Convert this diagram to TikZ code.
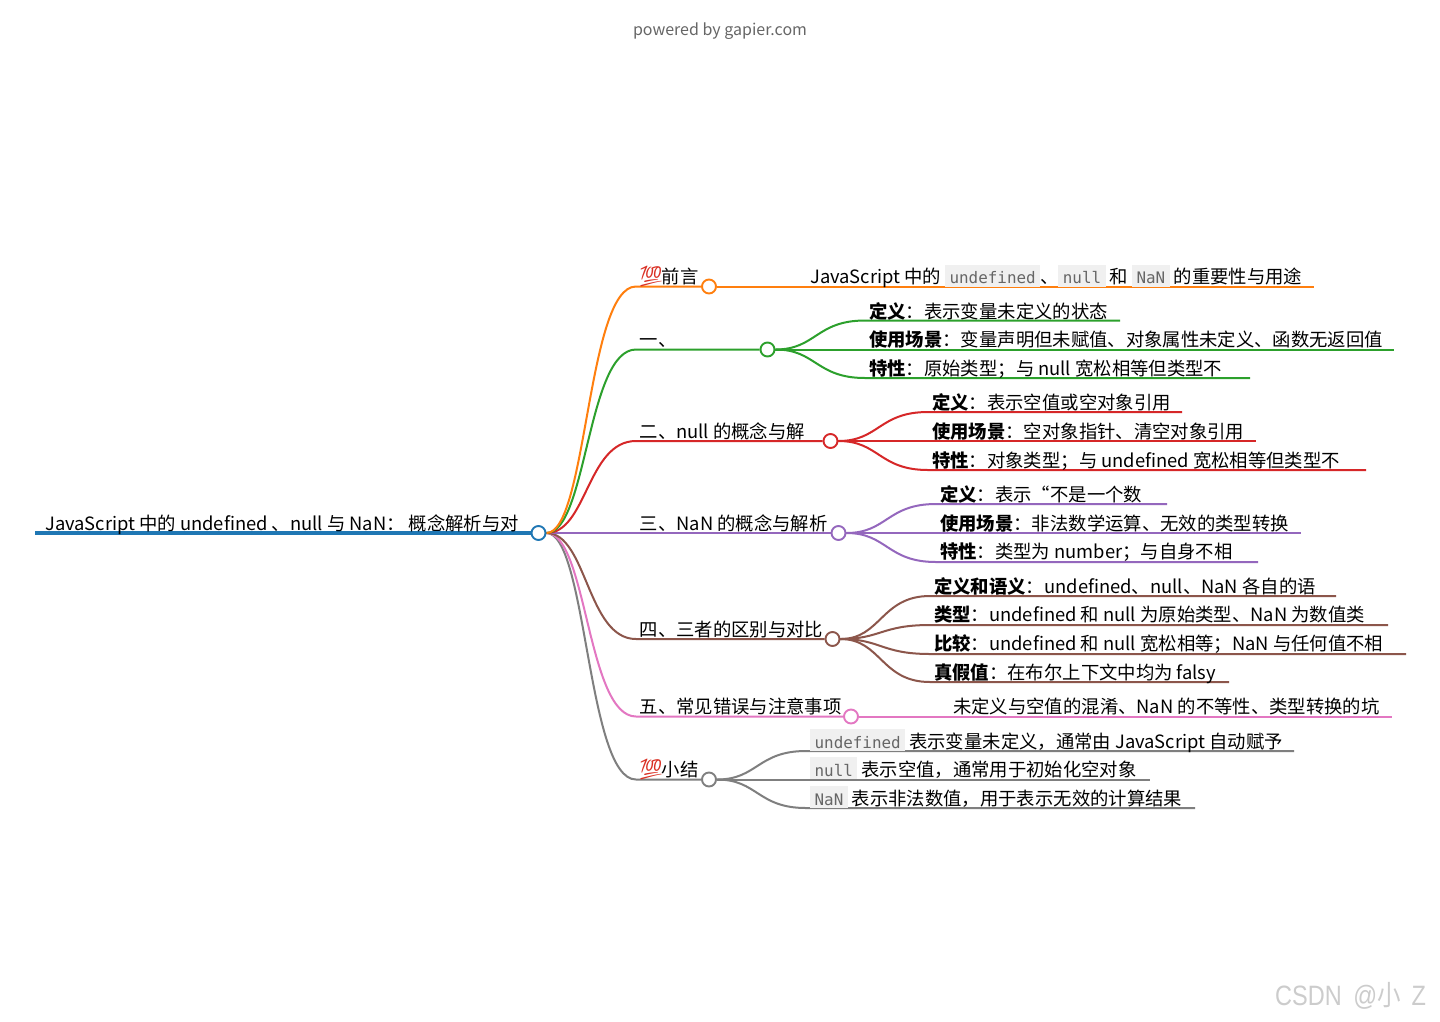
\documentclass[tikz,border=0pt]{standalone}
\usepackage{fontspec}
\usetikzlibrary{backgrounds}
\setmainfont{Noto Sans CJK SC}
\newfontfamily\emojifont{Noto Emoji}
\newfontfamily\monofont{DejaVu Sans Mono}
\newfontfamily\wmfont{Liberation Sans}
\definecolor{cblue}{HTML}{1F77B4}
\definecolor{corange}{HTML}{FF7F0E}
\definecolor{cgreen}{HTML}{2CA02C}
\definecolor{cred}{HTML}{D62728}
\definecolor{cpurple}{HTML}{9467BD}
\definecolor{cbrown}{HTML}{8C564B}
\definecolor{cpink}{HTML}{E377C2}
\definecolor{cgrey}{HTML}{7F7F7F}
\definecolor{codebg}{HTML}{F0F0F0}
\definecolor{codefg}{HTML}{666666}
\newcommand{\cb}[1]{{\setlength{\fboxsep}{0pt}\colorbox{codebg}{\rule[-3pt]{0pt}{22pt}\hspace{4.4pt}{\monofont\fontsize{15.9}{20}\selectfont\color{codefg}#1}\hspace{4.4pt}}}}
\newcommand{\hundred}{\makebox[22pt][l]{\hspace*{-1.5pt}\emojifont\fontsize{20.5}{22}\selectfont\color{cred!90!orange}\symbol{"1F4AF}}}
\tikzset{
  dot/.style={circle,draw,fill=white,line width=1.9pt,minimum size=14pt,inner sep=0pt},
  link/.style={line width=2pt},
  lbl/.style={anchor=base west,inner sep=0pt,yshift=-1.7pt,text=black,font=\fontsize{18.35}{22}\selectfont},
}
\begin{document}
\begin{tikzpicture}[x=1pt,y=-1pt]
\useasboundingbox (0,0) rectangle (1440,1021);
% circles
\node[dot,draw=cblue] (r) at (538.5,533) {};
\node[dot,draw=corange] (a) at (709,286.5) {};
\node[dot,draw=cgreen] (b) at (767.5,349.5) {};
\node[dot,draw=cred] (c) at (830.5,441) {};
\node[dot,draw=cpurple] (d) at (838.5,533) {};
\node[dot,draw=cbrown] (e) at (832.5,639) {};
\node[dot,draw=cpink] (f) at (851,716.5) {};
\node[dot,draw=cgrey] (g) at (709,779.5) {};
% free ends
\coordinate (r0) at (35,533);
\foreach \n/\x/\y in {a0/636/286.5,a1/1314/286.5,b0/636/349.5,c0/636/441,e0/636/639,f0/636/716.5,g0/636/779.5,f1/1392/716.5,
  b1/1120/320.5,b2/1394/349.5,b3/1250/378,
  c1/1182/412,c2/1256/441,c3/1366/470,
  d1/1167/504,d2/1301/533,d3/1258/562,
  e1/1336/596,e2/1388/625,e3/1406/654,e4/1229/682,
  g1/1294/751,g2/1150/779.5,g3/1195/808}
  {\coordinate (\n) at (\x,\y);}
\begin{pgfonlayer}{background}
\fill[white] (0,0) rectangle (1440,1021);
% root
\draw[cblue,line width=4.6pt] (r0) -- (r);
% branches
\begin{scope}[link]
\draw[cgrey] (r) .. controls (587,533) and (587,779.5) .. (g0) -- (g);
\draw[cpink] (r) .. controls (587,533) and (587,716.5) .. (f0) -- (f);
\draw[cbrown] (r) .. controls (587,533) and (587,639) .. (e0) -- (e);
\draw[cpurple] (r) -- (d);
\draw[cred] (r) .. controls (587,533) and (587,441) .. (c0) -- (c);
\draw[cgreen] (r) .. controls (587,533) and (587,349.5) .. (b0) -- (b);
\draw[corange] (r) .. controls (587,533) and (587,286.5) .. (a0) -- (a);
\draw[corange] (a) -- (a1);
\draw[cpink] (f) -- (f1);
\draw[cgreen] (b) .. controls (816,349.5) and (816,320.5) .. (865,320.5) -- (b1);
\draw[cgreen] (b) -- (b2);
\draw[cgreen] (b) .. controls (816,349.5) and (816,378) .. (865,378) -- (b3);
\draw[cred] (c) .. controls (879,441) and (879,412) .. (928,412) -- (c1);
\draw[cred] (c) -- (c2);
\draw[cred] (c) .. controls (879,441) and (879,470) .. (928,470) -- (c3);
\draw[cpurple] (d) .. controls (887,533) and (887,504) .. (936,504) -- (d1);
\draw[cpurple] (d) -- (d2);
\draw[cpurple] (d) .. controls (887,533) and (887,562) .. (936,562) -- (d3);
\draw[cbrown] (e) .. controls (881,639) and (881,596) .. (930,596) -- (e1);
\draw[cbrown] (e) .. controls (881,639) and (881,625) .. (930,625) -- (e2);
\draw[cbrown] (e) .. controls (881,639) and (881,654) .. (930,654) -- (e3);
\draw[cbrown] (e) .. controls (881,639) and (881,682) .. (930,682) -- (e4);
\draw[cgrey] (g) .. controls (757.5,779.5) and (757.5,751) .. (806,751) -- (g1);
\draw[cgrey] (g) -- (g2);
\draw[cgrey] (g) .. controls (757.5,779.5) and (757.5,808) .. (806,808) -- (g3);
\end{scope}
\end{pgfonlayer}
% labels
\node[anchor=base,inner sep=0pt,text=black!60,font=\fontsize{16}{20}\selectfont] (top) at (720,35) {powered by gapier.com};
\node[lbl] (tr) at (45,528.3) {JavaScript 中的 undefined 、null 与 NaN： 概念解析与对};
\node[lbl] (ta) at (639.5,281.5) {\hundred 前言};
\node[lbl] (tb) at (639.5,345) {一、};
\node[lbl] (tc) at (639.5,436.5) {二、null 的概念与解};
\node[lbl] (td) at (639.5,528.5) {三、NaN 的概念与解析};
\node[lbl] (te) at (639.5,634.5) {四、三者的区别与对比};
\node[lbl] (tf) at (639.5,711.3) {五、常见错误与注意事项};
\node[lbl] (tg) at (639.5,774.5) {\hundred 小结};
\node[lbl] (ta1) at (810,282) {JavaScript 中的 \cb{undefined}、\cb{null} 和 \cb{NaN} 的重要性与用途};
\node[lbl] (tb1) at (869,316.5) {\textbf{定义}：表示变量未定义的状态};
\node[lbl] (tb2) at (869,345) {\textbf{使用场景}：变量声明但未赋值、对象属性未定义、函数无返回值};
\node[lbl] (tb3) at (869,373.5) {\textbf{特性}：原始类型；与 null 宽松相等但类型不};
\node[lbl] (tc1) at (932,407.5) {\textbf{定义}：表示空值或空对象引用};
\node[lbl] (tc2) at (932,436.5) {\textbf{使用场景}：空对象指针、清空对象引用};
\node[lbl] (tc3) at (932,465.5) {\textbf{特性}：对象类型；与 undefined 宽松相等但类型不};
\node[lbl] (td1) at (940,499.5) {\textbf{定义}：表示“不是一个数};
\node[lbl] (td2) at (940,528.5) {\textbf{使用场景}：非法数学运算、无效的类型转换};
\node[lbl] (td3) at (940,556.8) {\textbf{特性}：类型为 number；与自身不相};
\node[lbl] (te1) at (934,591.5) {\textbf{定义和语义}：undefined、null、NaN 各自的语};
\node[lbl] (te2) at (934,619.8) {\textbf{类型}：undefined 和 null 为原始类型、NaN 为数值类};
\node[lbl] (te3) at (934,648.8) {\textbf{比较}：undefined 和 null 宽松相等；NaN 与任何值不相};
\node[lbl] (te4) at (934,677.5) {\textbf{真假值}：在布尔上下文中均为 falsy};
\node[lbl] (tf1) at (953,711.3) {未定义与空值的混淆、NaN 的不等性、类型转换的坑};
\node[lbl] (tg1) at (810,746.3) {\cb{undefined} 表示变量未定义，通常由 JavaScript 自动赋予};
\node[lbl] (tg2) at (810,774.3) {\cb{null} 表示空值，通常用于初始化空对象};
\node[lbl] (tg3) at (810,803.3) {\cb{NaN} 表示非法数值，用于表示无效的计算结果};
\node[anchor=base west,inner sep=0pt,text=black!20,font=\wmfont\fontsize{28}{32}\selectfont] (wm) at (1275,1005) {\scalebox{.84}[1]{CSDN\hspace{6pt} @{\fontspec{Noto Sans CJK SC}小}\hspace{5pt} Z}};
\end{tikzpicture}
\end{document}
